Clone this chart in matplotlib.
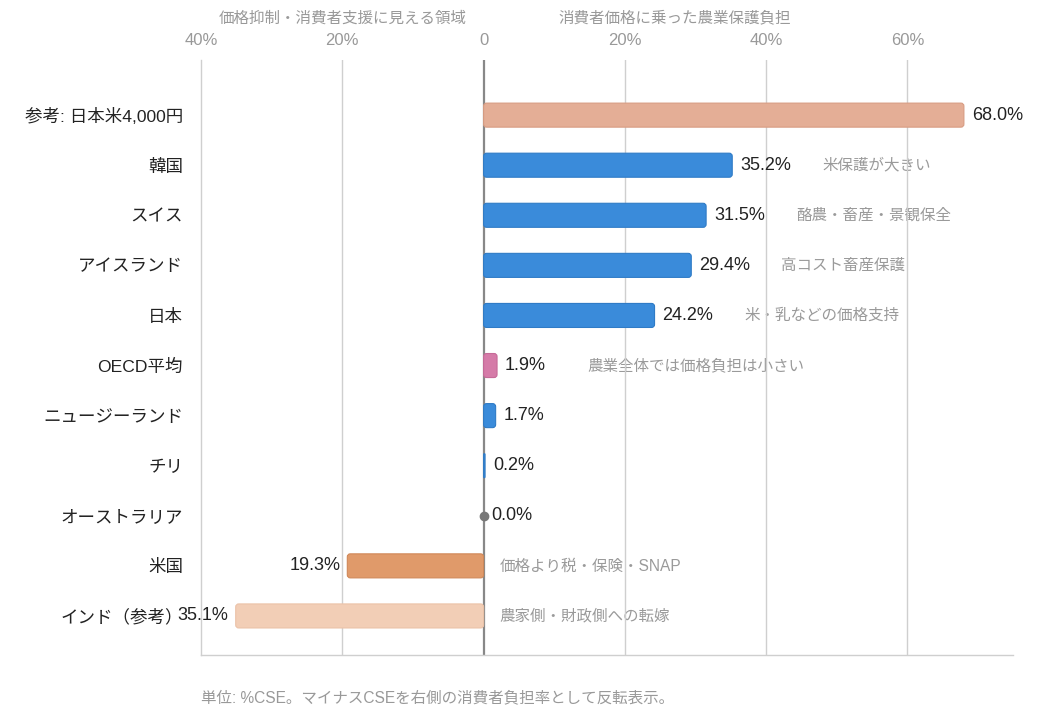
import matplotlib
matplotlib.use("Agg")
import matplotlib.pyplot as plt
from matplotlib.patches import FancyBboxPatch

plt.rcParams['font.family'] = ['Liberation Sans', 'Noto Sans CJK JP', 'DejaVu Sans']

# データ
categories = ['参考: 日本米4,000円', '韓国', 'スイス', 'アイスランド', '日本', 'OECD平均',
              'ニュージーランド', 'チリ', 'オーストラリア', '米国', 'インド（参考）']
values = [68.0, 35.2, 31.5, 29.4, 24.2, 1.9, 1.7, 0.2, 0.0, -19.3, -35.1]
notes = ['', '米保護が大きい', '酪農・畜産・景観保全', '高コスト畜産保護', '米・乳などの価格支持',
         '農業全体では価格負担は小さい', '', '', '', '価格より税・保険・SNAP', '農家側・財政側への転嫁']
colors = ['#E4AE96', '#3A8BDA', '#3A8BDA', '#3A8BDA', '#3A8BDA', '#D57BA8',
          '#3A8BDA', '#3A8BDA', '#888888', '#E09A6A', '#F2CEB6']
edges = ['#D89C82', '#2F7BC6', '#2F7BC6', '#2F7BC6', '#2F7BC6', '#C66A98',
         '#2F7BC6', '#2F7BC6', '#888888', '#D08858', '#EBC2A8']
xticks = [-40, -20, 0, 20, 40, 60]
xticklabels = ['40%', '20%', '0', '20%', '40%', '60%']

fig = plt.figure(figsize=(10.42, 7.19), dpi=100)
ax = fig.add_axes([0.193, 0.089, 0.7795, 0.8275])

xmin, xmax = -40, 75
ymin, ymax = 10.78, -1.1
ax.set_xlim(xmin, xmax)
ax.set_ylim(ymin, ymax)

# 角丸の補正
pos = ax.get_position()
xu = (xmax - xmin) / (pos.width * 1042)
yu = abs(ymax - ymin) / (pos.height * 719)
aspect = yu / xu

h = 0.48
for i, v in enumerate(values):
    if v == 0:
        ax.plot(0, i, 'o', color='#777777', markersize=6, zorder=4)
    else:
        x0 = min(0, v)
        w = abs(v)
        r = min(3 * xu, w / 2)
        p = FancyBboxPatch((x0, i - h / 2), w, h,
                           boxstyle=f"round,pad=0,rounding_size={r}",
                           mutation_aspect=aspect,
                           facecolor=colors[i], edgecolor=edges[i], linewidth=0.8, zorder=3)
        ax.add_patch(p)
    label = f"{abs(v):.1f}%"
    if v >= 0:
        ax.text(v + 8 * xu, i, label, va='center', ha='left', fontsize=13, color='#222222', zorder=5)
        if notes[i]:
            ax.text(v + 90 * xu, i, notes[i], va='center', ha='left', fontsize=11.2, color='#9a9a9a', zorder=1)
    else:
        ax.text(v - 7 * xu, i, label, va='center', ha='right', fontsize=13, color='#222222', zorder=5)
        if notes[i]:
            ax.text(16 * xu, i, notes[i], va='center', ha='left', fontsize=11.2, color='#9a9a9a', zorder=1)

ax.set_yticks(range(len(categories)))
ax.set_yticklabels(categories, fontsize=12.6, color='#222222')
ax.tick_params(axis='y', length=0, pad=13)

ax.xaxis.tick_top()
ax.set_xticks(xticks)
ax.set_xticklabels(xticklabels, fontsize=12, color='#999999')
ax.tick_params(axis='x', length=0, pad=9)

for x in xticks:
    if x == 0:
        ax.axvline(0, color='#888888', linewidth=1.6, zorder=2)
    elif x != xmin:
        ax.axvline(x, color='#cfcfcf', linewidth=1.0, zorder=2)

for s in ['top', 'right']:
    ax.spines[s].set_visible(False)
ax.spines['left'].set_color('#cfcfcf')
ax.spines['bottom'].set_color('#cfcfcf')
ax.spines['left'].set_linewidth(1.0)
ax.spines['bottom'].set_linewidth(1.0)

# 上部の見出し
fig.text(0.3285, 1 - 18 / 719, '価格抑制・消費者支援に見える領域', ha='center', va='center',
         fontsize=11.2, color='#999999')
fig.text(0.647, 1 - 18 / 719, '消費者価格に乗った農業保護負担', ha='center', va='center',
         fontsize=11.2, color='#999999')

fig.text(0.193, 1 - 698 / 719, '単位: %CSE。マイナスCSEを右側の消費者負担率として反転表示。',
         ha='left', va='center', fontsize=11.2, color='#999999')

plt.savefig("out.png", dpi=100)
